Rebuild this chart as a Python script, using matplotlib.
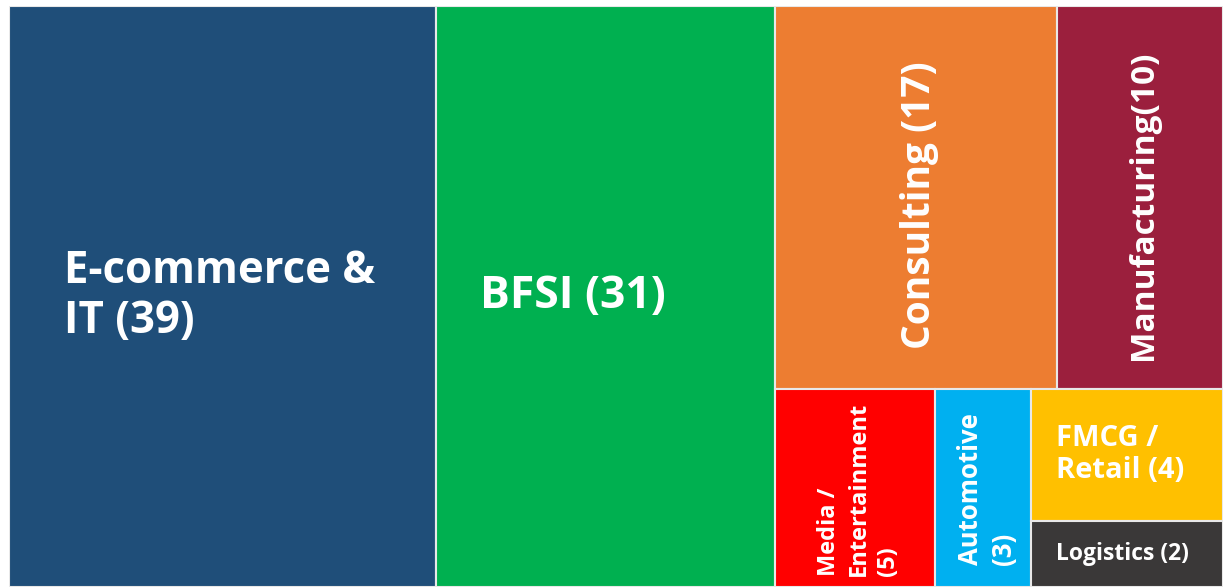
import matplotlib
matplotlib.use('Agg')
from matplotlib import pyplot as plt
from matplotlib.patches import Rectangle

labels = ['E-commerce &\nIT (39)', 'BFSI (31)', 'Consulting (17)', 'Manufacturing(10)',
          'Media /\nEntertainment\n(5)', 'Automotive\n(3)', 'FMCG /\nRetail (4)', 'Logistics (2)']
counts = [39, 31, 17, 10, 5, 3, 4, 2]
colors = ['#1F4E79', '#00B050', '#ED7D31', '#9B1F3D',
          '#FF0000', '#00B0F0', '#FFC000', '#3A3838']

# nesting of the tiles: 'h' = side by side, 'v' = stacked
tree = ('h', [0, 1, ('v', [('h', [2, 3]), ('h', [4, 5, ('v', [6, 7])])])])

W, H = 1214.0, 581.0


def total(node):
    if isinstance(node, int):
        return counts[node]
    return sum(total(n) for n in node[1])


def layout(node, x, y, w, h, out):
    if isinstance(node, int):
        out[node] = (x, y, w, h)
        return
    kind, kids = node
    s = total(node)
    for k in kids:
        f = total(k) / s
        if kind == 'h':
            layout(k, x, y, w * f, h, out)
            x += w * f
        else:
            layout(k, x, y, w, h * f, out)
            y += h * f


rects = {}
layout(tree, 0, 0, W, H, rects)

# label style per tile: (rotation, fontsize, linespacing)
style = {0: (0, 31.5, 1.15), 1: (0, 32, 1.2), 2: (90, 28, 1.2), 3: (90, 24, 1.2),
         4: (90, 17, 1.3), 5: (90, 18.5, 1.3), 6: (0, 21, 1.15), 7: (0, 16.5, 1.2)}

fig = plt.figure(figsize=(12.23, 5.87), dpi=100)
ax = fig.add_axes([9 / 1223, 0, 1214 / 1223, 581 / 587])
ax.set_xlim(0, W)
ax.set_ylim(H, 0)
ax.axis('off')

font = ['Open Sans', 'DejaVu Sans']
for i, (x, y, w, h) in rects.items():
    ax.add_patch(Rectangle((x, y), w, h, facecolor=colors[i],
                           edgecolor='#E8E8E8', linewidth=1.5))
    rot, fs, ls = style[i]
    if rot == 0:
        ax.text(x + min(58, w * 0.13), y + h / 2, labels[i],
                ha='left', va='center', color='white', fontsize=fs,
                fontweight='bold', family=font, linespacing=ls)
    else:
        shift = 8 if h > 300 else 1
        ax.text(x + w / 2 + 4, y + h / 2 + shift, labels[i], rotation=90,
                ha='center', va='center', color='white', fontsize=fs,
                fontweight='bold', family=font,
                multialignment='left', linespacing=ls)

fig.savefig('out.png', dpi=100)
